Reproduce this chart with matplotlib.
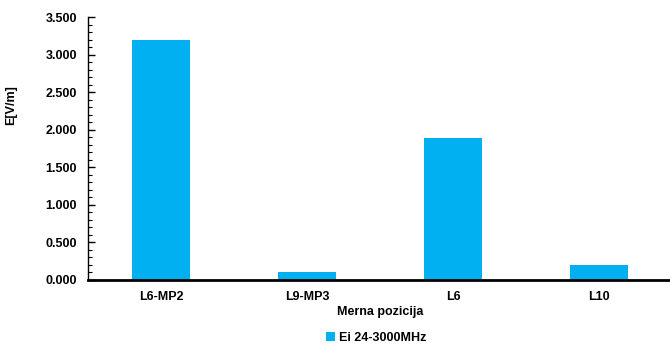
import matplotlib
matplotlib.use("Agg")
import matplotlib.pyplot as plt
from matplotlib.ticker import MultipleLocator, FuncFormatter

positions = ["L6-MP2", "L9-MP3", "L6", "L10"]
field_values = [3.195, 0.105, 1.89, 0.205]
series_name = "Ei 24-3000MHz"
y_label = "E[V/m]"
x_label = "Merna pozicija"

plt.rcParams["font.family"] = ["Liberation Sans", "DejaVu Sans"]
plt.rcParams["font.weight"] = "bold"

W, H = 670, 348
fig = plt.figure(figsize=(W / 100, H / 100), dpi=100)
ax = fig.add_axes([88 / W, 1 - 280 / H, (672 - 88) / W, (280 - 17) / H])

x = range(len(positions))
ax.bar(x, field_values, width=0.4, color="#00B0F0", label=series_name, zorder=2)

ax.set_xlim(-0.5, len(positions) - 0.5)
ax.set_ylim(0, 3.5)
ax.yaxis.set_major_locator(MultipleLocator(0.5))
ax.yaxis.set_minor_locator(MultipleLocator(0.1))
ax.yaxis.set_major_formatter(FuncFormatter(lambda v, p: f"{v:.3f}"))
ax.set_xticks(list(x))
ax.set_xticklabels(positions)

ax.tick_params(axis="y", direction="in", length=5, width=1, labelsize=9, pad=8)
ax.tick_params(axis="y", which="minor", direction="in", length=3, width=0.8)
ax.tick_params(axis="x", direction="in", length=4, width=1.5, labelsize=9, pad=8)

for s in ("top", "right"):
    ax.spines[s].set_visible(False)
ax.spines["left"].set_linewidth(1.0)
ax.spines["bottom"].set_linewidth(2.0)

ax.set_ylabel(y_label, fontsize=9, fontweight="bold")
ax.yaxis.set_label_coords(-0.121, 0.667)
ax.set_xlabel(x_label, fontsize=9, fontweight="bold", labelpad=2)

fig.legend(loc="center", bbox_to_anchor=(376 / W, 1 - 338 / H), ncol=1, frameon=False,
           fontsize=9, handlelength=0.7, handleheight=0.7, handletextpad=0.3)

fig.savefig("out.png", dpi=100)
